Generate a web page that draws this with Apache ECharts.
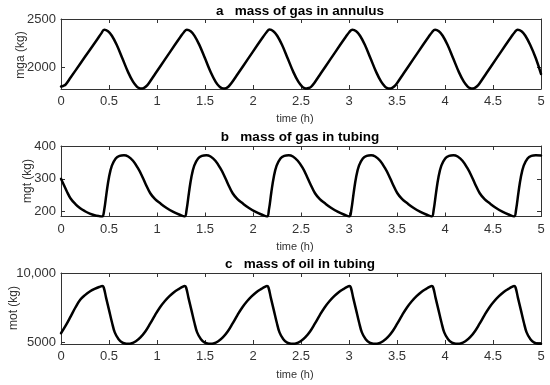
<!DOCTYPE html>
<html>
<head>
<meta charset="utf-8">
<script src="https://cdn.jsdelivr.net/npm/echarts@6/dist/echarts.min.js"></script>
<style>
html,body{margin:0;padding:0;background:#fff;}
#chart{width:550px;height:385px;}
</style>
</head>
<body>
<div id="chart"></div>
<script>
// ---------- data (time in h) ----------
const xTicks = [0, 0.5, 1, 1.5, 2, 2.5, 3, 3.5, 4, 4.5, 5];

const titles = ['a   mass of gas in annulus', 'b   mass of gas in tubing', 'c   mass of oil in tubing'];
const yNames = ['mga (kg)', 'mgt (kg)', 'mot (kg)'];
const xName = 'time (h)';

const yTicksA = [2000, 2500];
const yTicksB = [200, 300, 400];
const yTicksC = [5000, 10000];

const timeA = [
  0, 0.025, 0.05, 0.1, 0.2, 0.3, 0.38, 0.42, 0.45,
  0.49, 0.53, 0.58, 0.64, 0.70, 0.75, 0.79, 0.815, 0.835,
  0.86, 0.885, 0.915, 0.985, 1.085, 1.185, 1.245, 1.28, 1.311,
  1.351, 1.391, 1.441, 1.501, 1.561, 1.611, 1.651, 1.676, 1.696,
  1.721, 1.746, 1.776, 1.846, 1.946, 2.046, 2.106, 2.141, 2.172,
  2.212, 2.252, 2.302, 2.362, 2.422, 2.472, 2.512, 2.537, 2.557,
  2.582, 2.607, 2.637, 2.707, 2.807, 2.907, 2.967, 3.002, 3.035,
  3.075, 3.115, 3.165, 3.225, 3.285, 3.335, 3.375, 3.400, 3.420,
  3.445, 3.470, 3.500, 3.570, 3.670, 3.770, 3.830, 3.865, 3.896,
  3.936, 3.976, 4.026, 4.086, 4.146, 4.196, 4.236, 4.261, 4.281,
  4.306, 4.331, 4.361, 4.431, 4.531, 4.631, 4.691, 4.726, 4.757,
  4.797, 4.837, 4.887, 4.947, 5.0
];
const mga = [
  1805, 1812, 1828, 1898, 2040, 2182, 2295, 2352, 2390,
  2374, 2328, 2235, 2094, 1951, 1855, 1805, 1789, 1785,
  1790, 1806, 1840, 1942, 2087, 2232, 2317, 2364, 2390,
  2373, 2327, 2234, 2093, 1950, 1854, 1804, 1789, 1785,
  1790, 1806, 1841, 1942, 2087, 2232, 2317, 2364, 2391,
  2374, 2328, 2235, 2094, 1951, 1855, 1805, 1789, 1785,
  1790, 1805, 1840, 1942, 2087, 2232, 2317, 2364, 2390,
  2374, 2328, 2235, 2094, 1951, 1855, 1805, 1789, 1785,
  1790, 1806, 1840, 1942, 2087, 2232, 2317, 2364, 2390,
  2374, 2328, 2235, 2094, 1951, 1855, 1805, 1789, 1785,
  1790, 1806, 1840, 1942, 2087, 2232, 2317, 2364, 2390,
  2374, 2328, 2235, 2094, 1935
];

const timeB = [
  0, 0.03, 0.06, 0.1, 0.15, 0.2, 0.25, 0.3, 0.35, 0.4,
  0.43, 0.45, 0.475, 0.5, 0.53, 0.57, 0.61, 0.656, 0.70, 0.75, 0.80, 0.84, 0.88, 0.93, 0.98, 1.03, 1.10, 1.17, 1.23,
  1.288, 1.308, 1.333, 1.358, 1.388, 1.428, 1.468, 1.514, 1.558, 1.608, 1.658, 1.698, 1.738, 1.788, 1.838, 1.888, 1.958, 2.028, 2.088,
  2.146, 2.166, 2.191, 2.216, 2.246, 2.286, 2.326, 2.372, 2.416, 2.466, 2.516, 2.556, 2.596, 2.646, 2.696, 2.746, 2.816, 2.886, 2.946,
  3.004, 3.024, 3.049, 3.074, 3.104, 3.144, 3.184, 3.230, 3.274, 3.324, 3.374, 3.414, 3.454, 3.504, 3.554, 3.604, 3.674, 3.744, 3.804,
  3.862, 3.882, 3.907, 3.932, 3.962, 4.002, 4.042, 4.088, 4.132, 4.182, 4.232, 4.272, 4.312, 4.362, 4.412, 4.462, 4.532, 4.602, 4.662,
  4.72, 4.74, 4.765, 4.79, 4.82, 4.86, 4.90, 4.946, 5.0
];
const mgt = [
  300, 281, 262, 240, 223, 210, 201, 194, 189, 186,
  185, 205, 258, 305, 340, 362, 370, 372, 368, 355, 333, 311, 285, 256, 238, 226, 211, 199, 191,
  185, 205, 258, 305, 340, 362, 370, 372, 368, 355, 333, 311, 285, 256, 238, 226, 211, 199, 191,
  185, 206, 259, 305, 340, 362, 370, 372, 368, 355, 334, 311, 285, 256, 238, 226, 211, 199, 191,
  185, 205, 258, 305, 340, 362, 370, 372, 368, 355, 333, 311, 285, 256, 238, 226, 211, 199, 191,
  185, 205, 258, 305, 340, 362, 370, 372, 368, 355, 333, 311, 285, 256, 238, 226, 211, 199, 191,
  185, 205, 258, 305, 340, 362, 370, 372, 371
];

const timeC = [
  0, 0.05, 0.1, 0.15, 0.2, 0.25, 0.3, 0.35, 0.4,
  0.43, 0.445, 0.47, 0.5, 0.53, 0.56, 0.6, 0.64, 0.68, 0.70, 0.73, 0.78, 0.83, 0.88, 0.93, 0.98, 1.03, 1.08, 1.13, 1.18, 1.23, 1.265,
  1.288, 1.303, 1.328, 1.358, 1.388, 1.418, 1.458, 1.498, 1.538, 1.558, 1.588, 1.638, 1.688, 1.738, 1.788, 1.838, 1.888, 1.938, 1.988, 2.038, 2.088, 2.123,
  2.146, 2.161, 2.186, 2.216, 2.246, 2.276, 2.316, 2.356, 2.396, 2.416, 2.446, 2.496, 2.546, 2.596, 2.646, 2.696, 2.746, 2.796, 2.846, 2.896, 2.946, 2.981,
  3.004, 3.019, 3.044, 3.074, 3.104, 3.134, 3.174, 3.214, 3.254, 3.274, 3.304, 3.354, 3.404, 3.454, 3.504, 3.554, 3.604, 3.654, 3.704, 3.754, 3.804, 3.839,
  3.862, 3.877, 3.902, 3.932, 3.962, 3.992, 4.032, 4.072, 4.112, 4.132, 4.162, 4.212, 4.262, 4.312, 4.362, 4.412, 4.462, 4.512, 4.562, 4.612, 4.662, 4.697,
  4.72, 4.735, 4.76, 4.79, 4.82, 4.85, 4.89, 4.93, 4.97, 5.0
];
const mot = [
  5633, 6200, 6840, 7500, 8057, 8400, 8660, 8850, 8990,
  9050, 8950, 8200, 7330, 6450, 5700, 5200, 4950, 4875, 4870, 4890, 5050, 5350, 5780, 6350, 6950, 7500, 7950, 8320, 8620, 8850, 8990,
  9050, 8950, 8200, 7330, 6450, 5700, 5200, 4950, 4875, 4870, 4890, 5050, 5350, 5780, 6350, 6950, 7500, 7950, 8320, 8620, 8850, 8990,
  9050, 8950, 8200, 7330, 6450, 5700, 5200, 4950, 4875, 4870, 4890, 5050, 5350, 5780, 6350, 6950, 7500, 7950, 8320, 8620, 8850, 8990,
  9050, 8950, 8200, 7330, 6450, 5700, 5200, 4950, 4875, 4870, 4890, 5050, 5350, 5780, 6350, 6950, 7500, 7950, 8320, 8620, 8850, 8990,
  9050, 8950, 8200, 7330, 6450, 5700, 5200, 4950, 4875, 4870, 4890, 5050, 5350, 5780, 6350, 6950, 7500, 7950, 8320, 8620, 8850, 8990,
  9050, 8950, 8200, 7330, 6450, 5700, 5200, 4950, 4875, 4870
];

// ---------- chart ----------
const FONT = '"Liberation Sans", Arial, sans-serif';
const AXC = '#333333';
const TXC = '#333333';

const panels = [
  {t: timeA, v: mga, min: 1780, max: 2500, ticks: yTicksA, top: 19, height: 70,
   yName: [21, 55], xNameY: 119, titleY: 11},
  {t: timeB, v: mgt, min: 185, max: 400, ticks: yTicksB, top: 146, height: 70.5,
   yName: [28, 181], xNameY: 247, titleY: 137},
  {t: timeC, v: mot, min: 4855, max: 10000, ticks: yTicksC, top: 273, height: 71,
   yName: [14, 308], xNameY: 375, titleY: 264}
];

const grids = [], xAxes = [], yAxes = [], series = [], graphics = [];
panels.forEach((p, i) => {
  grids.push({left: 61, width: 480, top: p.top, height: p.height, show: false});
  const xBase = {
    gridIndex: i, type: 'value', min: 0, max: 5, interval: 0.5,
    axisLine: {show: true, onZero: false, lineStyle: {color: AXC, width: 1}},
    axisTick: {show: true, inside: true, length: 4, lineStyle: {color: AXC, width: 1}},
    splitLine: {show: false}
  };
  xAxes.push(Object.assign({}, xBase, {
    position: 'bottom',
    axisLabel: {show: true, margin: 6, fontSize: 13, color: TXC, fontFamily: FONT,
      customValues: xTicks}
  }));
  xAxes.push(Object.assign({}, xBase, {position: 'top', axisLabel: {show: false}}));
  const yBase = {
    gridIndex: i, type: 'value', min: p.min, max: p.max,
    axisLine: {show: true, onZero: false, lineStyle: {color: AXC, width: 1}},
    axisTick: {show: true, inside: true, length: 4, lineStyle: {color: AXC, width: 1},
      customValues: p.ticks},
    splitLine: {show: false}
  };
  yAxes.push(Object.assign({}, yBase, {
    position: 'left',
    axisLabel: {show: true, margin: 5, fontSize: 13, color: TXC, fontFamily: FONT,
      customValues: p.ticks,
      formatter: v => (v >= 10000 ? v.toLocaleString('en-US') : String(v))}
  }));
  yAxes.push(Object.assign({}, yBase, {position: 'right', axisLabel: {show: false}}));

  series.push({
    type: 'line', xAxisIndex: 2 * i, yAxisIndex: 2 * i,
    data: p.t.map((t, k) => [t, p.v[k]]),
    showSymbol: false, smooth: 0.4,
    lineStyle: {color: '#000', width: 2.5, cap: 'round', join: 'round'},
    animation: false, silent: true
  });

  graphics.push({type: 'text', x: 300, y: p.titleY,
    style: {text: titles[i], font: 'bold 13.5px ' + FONT, fill: '#000', align: 'center', verticalAlign: 'middle'}});
  graphics.push({type: 'text', x: 295, y: p.xNameY,
    style: {text: xName, font: '11px ' + FONT, fill: TXC, align: 'center', verticalAlign: 'middle'}});
  graphics.push({type: 'text', x: p.yName[0], y: p.yName[1], rotation: Math.PI / 2,
    style: {text: yNames[i], font: '12px ' + FONT, fill: TXC, align: 'center', verticalAlign: 'middle'}});
});

const chart = echarts.init(document.getElementById('chart'), null, {renderer: 'canvas'});
chart.setOption({
  animation: false,
  backgroundColor: '#fff',
  grid: grids, xAxis: xAxes, yAxis: yAxes, series: series, graphic: graphics
});
</script>
</body>
</html>
